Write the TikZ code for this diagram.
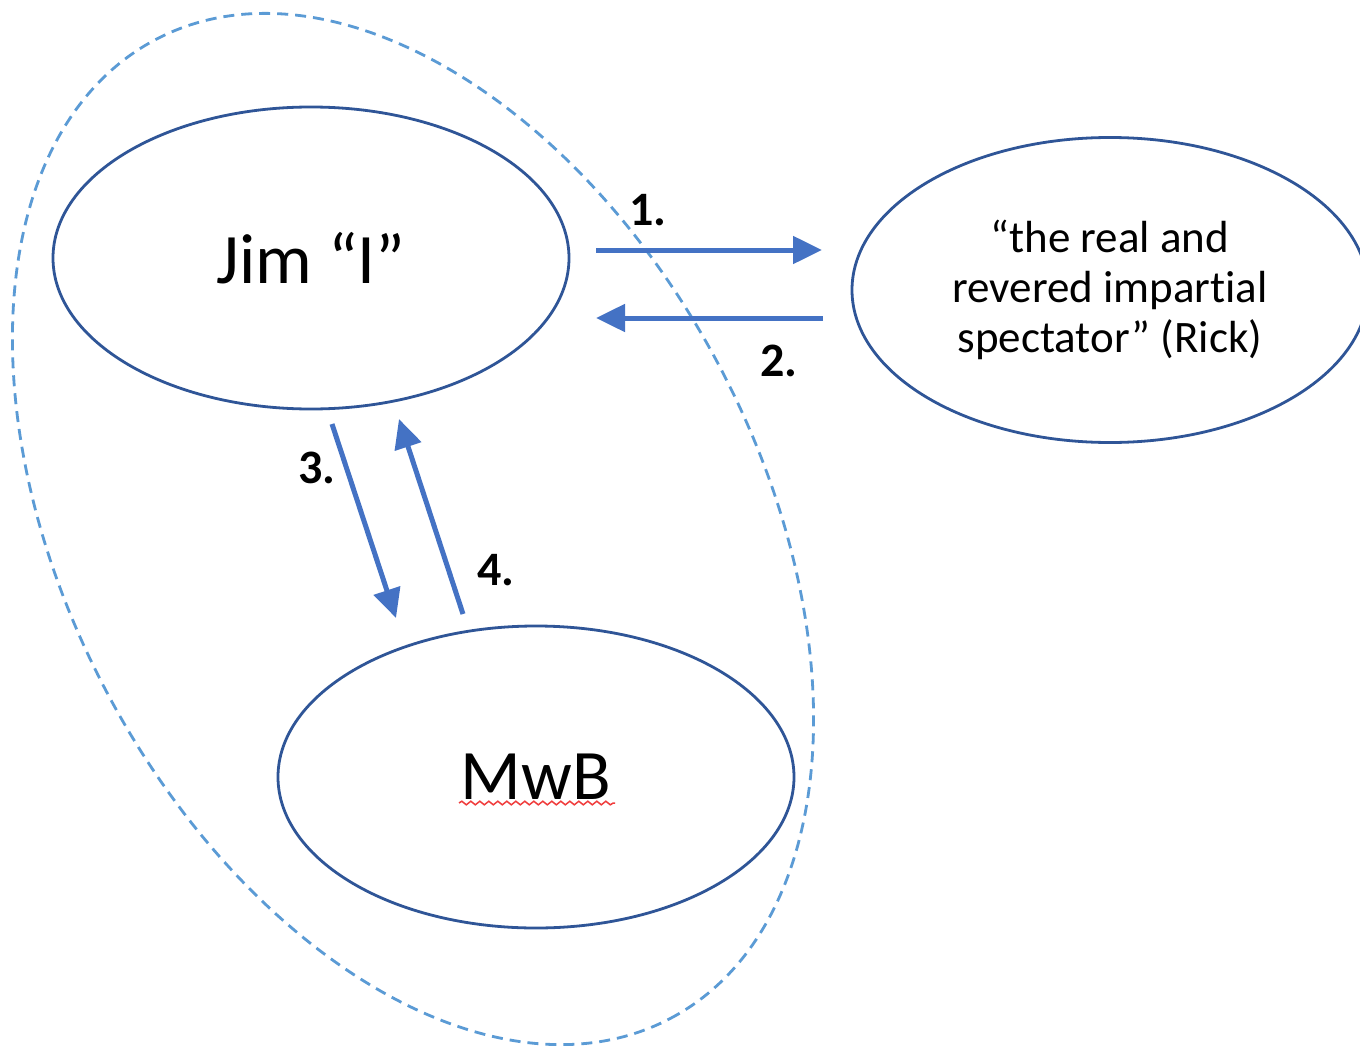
\documentclass[tikz,border=0pt]{standalone}
\usepackage{fontspec}
\setmainfont{Carlito}[RawFeature=-liga, RawFeature=-clig, RawFeature=-calt]
\usetikzlibrary{shapes.geometric,arrows.meta,decorations.pathmorphing}
\definecolor{ellblue}{HTML}{2F5597}
\definecolor{arrblue}{HTML}{4472C4}
\definecolor{dashblue}{HTML}{5B9BD5}
\definecolor{squig}{HTML}{F03C3C}
\tikzset{
  bubble/.style={ellipse, draw=ellblue, line width=2.8pt, inner sep=0pt,
    minimum width=516pt, minimum height=302pt, text=black},
  flow/.style={draw=arrblue, line width=5pt, -{Triangle[length=29pt,width=27pt]}},
  numlab/.style={font=\fontsize{48}{52}\selectfont\bfseries, text=black, inner sep=0pt},
  bigtxt/.style={font=\fontsize{71}{84}\selectfont},
  midtxt/.style={font=\fontsize{45}{50}\selectfont, align=center},
}
\begin{document}
\begin{tikzpicture}[x=1pt,y=-1pt]
\clip (0,0) rectangle (1360,1046);
\fill[white] (0,0) rectangle (1360,1046);
% dashed group outline
\draw[dashblue, line width=2.8pt, dash pattern=on 11pt off 7pt, rotate around={-62.3:(413,529)}]
  (413,529) ellipse [x radius=553pt, y radius=347pt];
% nodes
\node[bubble, bigtxt] (jim) at (311,258) {Jim “I”};
\node[bubble, midtxt, minimum width=516pt, minimum height=305pt] (rick) at (1110,290)
  {“the real and\\revered impart\kern0pt ial\\spectator” (Rick)};
\node[bubble, bigtxt] (mwb) at (536,777) {MwB};
% spell-check squiggle
\coordinate (sqa) at (459,803);
\coordinate (sqb) at (615,803);
\draw[squig, line width=1.5pt, decorate, decoration={snake, amplitude=1.8pt, segment length=9pt}] (sqa) -- (sqb);
% connector end points
\coordinate (a1s) at (596,250);
\coordinate (a1e) at (822,250);
\coordinate (a2s) at (823,318);
\coordinate (a2e) at (596,318);
\coordinate (a3s) at (332,424);
\coordinate (a3e) at (396,618);
\coordinate (a4s) at (463,614);
\coordinate (a4e) at (399,419);
\draw[flow] (a1s) -- (a1e);
\draw[flow] (a2s) -- (a2e);
\draw[flow] (a3s) -- (a3e);
\draw[flow] (a4s) -- (a4e);
% labels
\node[numlab] (n1) at (648,210) {1.};
\node[numlab] (n2) at (779,361) {2.};
\node[numlab] (n3) at (317,468) {3.};
\node[numlab] (n4) at (496,570) {4.};
\end{tikzpicture}
\end{document}
